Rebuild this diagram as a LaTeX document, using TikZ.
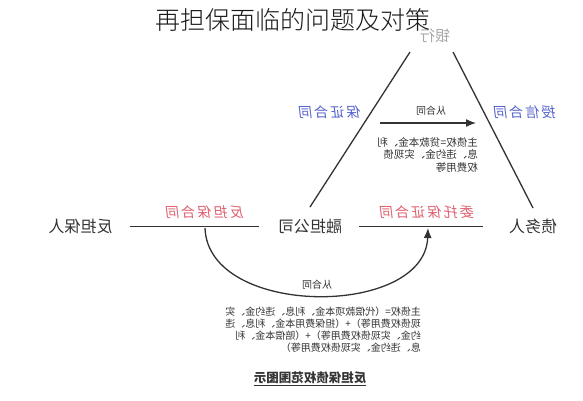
\documentclass[tikz,border=0pt]{standalone}
\usepackage{fontspec}
\usepackage{graphicx}
\setmainfont{Noto Sans CJK SC}
\newfontfamily\titlefont{Noto Sans CJK SC Light}
\newfontfamily\labfont[LetterSpace=15,FakeSlant=0.12]{Noto Sans CJK SC}
\usetikzlibrary{arrows.meta}
\definecolor{ink}{HTML}{333333}
\definecolor{redlab}{HTML}{DE6070}
\definecolor{bluelab}{HTML}{5562CC}
\definecolor{banklab}{HTML}{A8A8A8}
\newcommand{\mirror}[1]{\reflectbox{#1}}
\newcommand{\mirlines}[1]{\reflectbox{\begin{tabular}{@{}l@{}}#1\end{tabular}}}
\begin{document}
\begin{tikzpicture}[x=1pt,y=-1pt,
  party/.style={inner sep=0pt, font=\fontsize{16}{16}\selectfont, text=ink},
  redl/.style={inner sep=0pt, font=\labfont\fontsize{14}{14}\selectfont, text=redlab},
  bluel/.style={inner sep=0pt, font=\labfont\fontsize{14}{14}\selectfont, text=bluelab},
  small/.style={inner sep=0pt, font=\fontsize{10}{10}\selectfont, text=ink},
  conn/.style={draw=ink, line width=1.3pt},
  arr/.style={conn, -{Latex[length=10pt,width=8pt]}}
]
\useasboundingbox (0,0) rectangle (583,400);
\fill[white] (0,0) rectangle (583,400);

% parties
\node[party] (cg) at (80.5,226.5) {\mirror{反担保人}};
\node[party] (rd) at (310,226.5) {\mirror{融担公司}};
\node[party] (db) at (533,226.5) {\mirror{债务人}};
\node[party, text=banklab, font=\fontsize{15}{15}\selectfont] (bank) at (435,36) {\mirror{银行}};

% title
\node[anchor=east, inner sep=0pt, font=\titlefont\fontsize{25}{25}\selectfont, text=black!90] (title) at (431,20) {再担保面临的问题及对策};

% contract labels
\node[redl] (cgc) at (205,212) {\mirror{反担保合同}};
\node[redl] (wtc) at (427,212) {\mirror{委托保证合同}};
\node[bluel] (bzc) at (330,112) {\mirror{保证合同}};
\node[bluel] (sxc) at (525,112) {\mirror{授信合同}};

% bottom lines
\draw[conn, shorten <=17pt, shorten >=19pt] (cg.east) -- (rd.west);
\draw[conn, shorten <=17pt, shorten >=26pt] (rd.east) -- (db.west);

% triangle
\coordinate (rdTop) at (310,207);
\coordinate (apexL) at (410,52);
\coordinate (apexR) at (453,52);
\coordinate (dbTop) at (533,208);
\draw[conn] (rdTop) -- (apexL);
\draw[conn] (dbTop) -- (apexR);

% upper arrow
\coordinate (a1) at (380,123);
\coordinate (a2) at (476,123);
\draw[arr] (a1) -- (a2);
\node[small] (cong1) at (431,111) {\mirror{从合同}};
\node[small, anchor=north east, font=\fontsize{10.5}{12.5}\selectfont] (t1) at (478,137)
  {\mirlines{主债权=贷款本金、利\\息、违约金、实现债\\权费用等}};

% lower curved arrow
\coordinate (cs) at (205,228);
\coordinate (ce) at (428,228);
\draw[arr] (cs) .. controls (208,318) and (425,318) .. (ce);
\node[small] (cong2) at (317,285) {\mirror{从合同}};
\node[small, anchor=north east, font=\fontsize{10}{11.7}\selectfont] (t2) at (421,307)
  {\mirlines{主债权=（代偿款项本金、利息、违约金、实\\现债权费用等）+（担保费用本金、利息、违\\约金、实现债权费用等）+（赔偿本金、利\\息、违约金、实现债权费用等）}};

% caption
\node[inner sep=0pt, font=\fontsize{12.5}{12.5}\selectfont\bfseries, text=ink] (cap) at (310,378) {\mirror{反担保债权范围图示}};
\draw[draw=ink, line width=0.8pt] ([yshift=-1pt]cap.south west) -- ([yshift=-1pt]cap.south east);
\end{tikzpicture}
\end{document}
